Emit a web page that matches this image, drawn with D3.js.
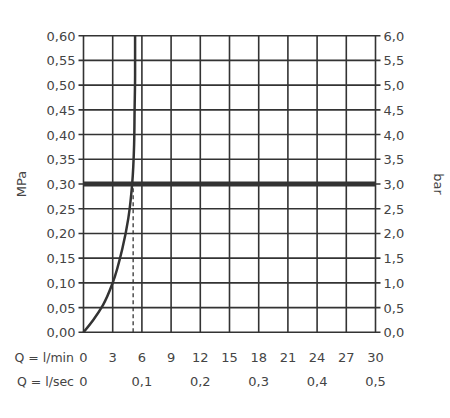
<!DOCTYPE html><html><head><script src="https://cdn.jsdelivr.net/npm/d3@7"></script>
<style>body{margin:0;background:#fff}text{font-family:"DejaVu Sans",sans-serif;fill:#444}</style></head><body>
<svg id="c" width="450" height="418"></svg>
<script>
const xTicksMin=[0,3,6,9,12,15,18,21,24,27,30];
const xTicksSec=["0","0,1","0,2","0,3","0,4","0,5"];
const yTicks=[0,0.05,0.1,0.15,0.2,0.25,0.3,0.35,0.4,0.45,0.5,0.55,0.6];
const curveQ=[0,1,2,3,4,4.6,5.0,5.2,5.25,5.3,5.3];
const curveP=[0,0.025,0.055,0.10,0.17,0.23,0.30,0.38,0.45,0.52,0.60];
const refP=0.30, refQ=5.1;
const svg=d3.select("#c");
const x=d3.scaleLinear().domain([0,30]).range([83.5,375.5]);
const y=d3.scaleLinear().domain([0,0.6]).range([332.3,35.7]);
const g=svg.append("g");
const col="#333";
xTicksMin.forEach(v=>g.append("line").attr("x1",x(v)).attr("x2",x(v)).attr("y1",y(0)).attr("y2",y(0.6)).attr("stroke",col).attr("stroke-width",1.6));
yTicks.forEach(v=>g.append("line").attr("x1",x(0)-5).attr("x2",x(30)+5).attr("y1",y(v)).attr("y2",y(v)).attr("stroke",col).attr("stroke-width",1.6));
const fmt=(v,d)=>v.toFixed(d).replace(".",",");
yTicks.forEach(v=>{
 g.append("text").attr("x",x(0)-8).attr("y",y(v)+5).attr("text-anchor","end").attr("font-size",13).text(fmt(v,2));
 g.append("text").attr("x",x(30)+8).attr("y",y(v)+5).attr("font-size",13).text(fmt(v*10,1));
});
xTicksMin.forEach(v=>g.append("text").attr("x",x(v)).attr("y",362).attr("text-anchor","middle").attr("font-size",13).text(v));
xTicksSec.forEach((t,i)=>g.append("text").attr("x",x(i*6)).attr("y",386).attr("text-anchor","middle").attr("font-size",13).text(t));
g.append("text").attr("x",74).attr("y",362).attr("text-anchor","end").attr("font-size",12.5).text("Q = l/min");
g.append("text").attr("x",74).attr("y",386).attr("text-anchor","end").attr("font-size",12.5).text("Q = l/sec");
g.append("text").attr("transform",`translate(26,${y(0.3)}) rotate(-90)`).attr("text-anchor","middle").attr("font-size",13).text("MPa");
g.append("text").attr("transform",`translate(434,${y(0.3)}) rotate(90)`).attr("text-anchor","middle").attr("font-size",13).text("bar");
g.append("line").attr("x1",x(0)).attr("x2",x(30)).attr("y1",y(refP)).attr("y2",y(refP)).attr("stroke",col).attr("stroke-width",5);
g.append("line").attr("x1",x(refQ)).attr("x2",x(refQ)).attr("y1",y(0)).attr("y2",y(refP)).attr("stroke",col).attr("stroke-width",1.3).attr("stroke-dasharray","4,3");
const pts=curveQ.map((q,i)=>[x(q),y(curveP[i])]);
g.append("path").attr("d",d3.line().curve(d3.curveMonotoneY)(pts)).attr("fill","none").attr("stroke",col).attr("stroke-width",2.5);
</script></body></html>
